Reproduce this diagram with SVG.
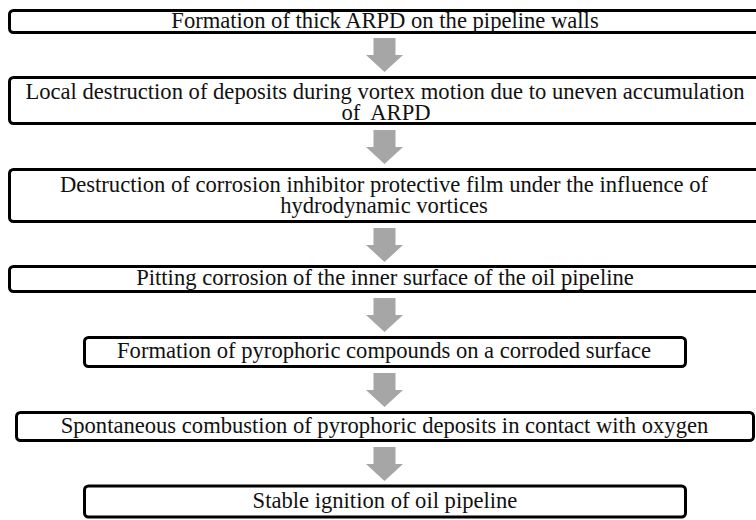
<svg xmlns="http://www.w3.org/2000/svg" width="756" height="520" viewBox="0 0 756 520">
<defs>
<style>
.box{fill:#fff;stroke:#000;stroke-width:3;}
.t{font-size:22.6px;fill:#111;text-anchor:middle;}
.arr{fill:#a6a6a6;stroke:none;}
</style>
<path id="arrow" d="M-11.5,0 H10.5 V17 H18 L-0.5,34 L-19,17 H-11.5 Z"/>
</defs>
<rect width="756" height="520" fill="#fff"/>
<g id="connectors">
<use href="#arrow" class="arr" x="385" y="38"/>
<use href="#arrow" class="arr" x="385" y="130"/>
<use href="#arrow" class="arr" x="385" y="228"/>
<use href="#arrow" class="arr" x="385" y="298"/>
<use href="#arrow" class="arr" x="385" y="373"/>
<use href="#arrow" class="arr" x="385" y="447"/>
</g>
<g font-family="Liberation Serif, Times New Roman, DejaVu Serif, serif">
<g id="n1">
<rect class="box" x="9.5" y="10.5" width="755" height="22" rx="4"/>
<text class="t" x="385" y="27.5">Formation of thick ARPD on the pipeline walls</text>
</g>
<g id="n2">
<rect class="box" x="9.5" y="77.5" width="755" height="46" rx="4"/>
<text class="t" x="385" y="98.5">Local destruction of deposits during vortex motion due to uneven accumulation</text>
<text class="t" x="386" y="120" xml:space="preserve">of  ARPD</text>
</g>
<g id="n3">
<rect class="box" x="9.5" y="169.5" width="755" height="52" rx="4"/>
<text class="t" x="384" y="191.5">Destruction of corrosion inhibitor protective film under the influence of</text>
<text class="t" x="384" y="213">hydrodynamic vortices</text>
</g>
<g id="n4">
<rect class="box" x="9.5" y="266.5" width="755" height="25" rx="4"/>
<text class="t" x="385" y="285">Pitting corrosion of the inner surface of the oil pipeline</text>
</g>
<g id="n5">
<rect class="box" x="84.5" y="337.5" width="601" height="29" rx="4"/>
<text class="t" x="384" y="358">Formation of pyrophoric compounds on a corroded surface</text>
</g>
<g id="n6">
<rect class="box" x="16.5" y="412.5" width="737" height="28" rx="4"/>
<text class="t" x="384.5" y="433">Spontaneous combustion of pyrophoric deposits in contact with oxygen</text>
</g>
<g id="n7">
<rect class="box" x="84.5" y="486" width="601" height="31" rx="4"/>
<text class="t" x="385" y="508">Stable ignition of oil pipeline</text>
</g>
</g>
</svg>
